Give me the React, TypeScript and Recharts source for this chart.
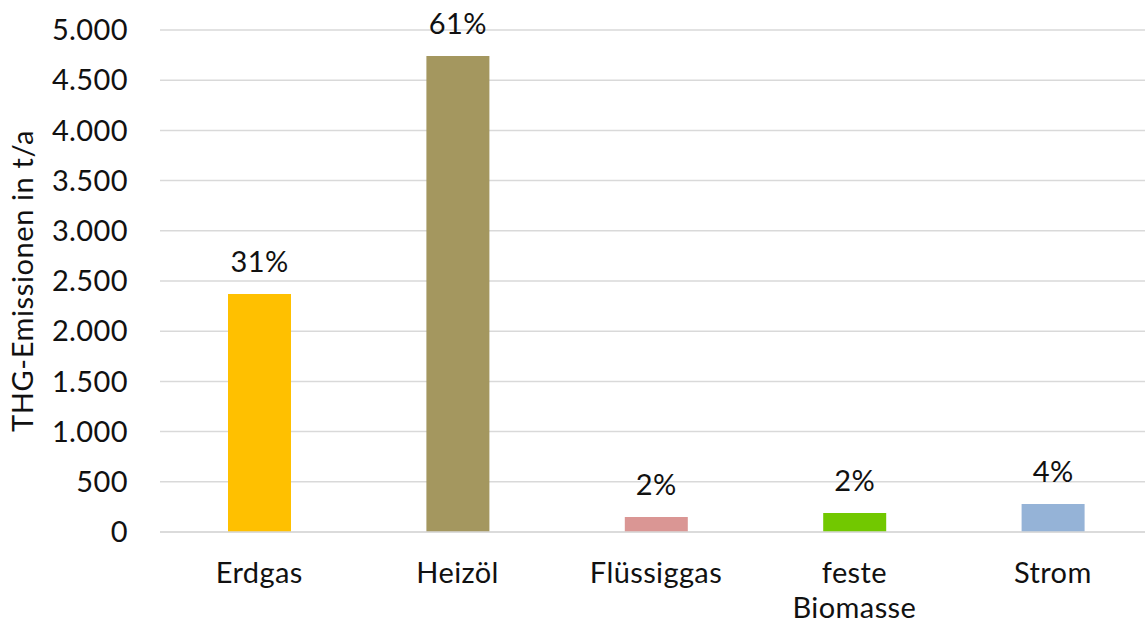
import { BarChart, Bar, XAxis, YAxis, CartesianGrid, Cell, LabelList } from 'recharts';

const categories = ['Erdgas', 'Heizöl', 'Flüssiggas', 'feste Biomasse', 'Strom'];
const emissions = [2370, 4740, 150, 190, 280];
const shares = ['31%', '61%', '2%', '2%', '4%'];
const colors = ['#FFC000', '#A4975F', '#DA9694', '#72C800', '#95B3D7'];
const yTicks = [0, 500, 1000, 1500, 2000, 2500, 3000, 3500, 4000, 4500, 5000];

const data = categories.map((name, i) => ({ name, value: emissions[i], share: shares[i] }));

const FONT = 'Lato, "Noto Sans", sans-serif';
const TEXT = '#111';

const fmt = (v: number) => String(v).replace(/\B(?=(\d{3})+(?!\d))/g, '.');

function CategoryTick(props: any) {
  const { x, y, payload } = props;
  const lines = String(payload.value).split(' ');
  return (
    <text x={x} y={y} textAnchor="middle" fill={TEXT} fontSize={29} fontFamily={FONT} letterSpacing={0.4}>
      {lines.map((line, i) => (
        <tspan key={i} x={x} dy={i === 0 ? '0.71em' : 35}>
          {line}
        </tspan>
      ))}
    </text>
  );
}

export default function App() {
  return (
    <div style={{ position: 'absolute', left: 0, top: 0, width: 1145, height: 624, overflow: 'hidden', background: '#fff' }}>
      <BarChart width={1160} height={624} data={data} margin={{ top: 30, right: 8, left: 0, bottom: 0 }}>
        <CartesianGrid vertical={false} stroke="#d9d9d9" strokeWidth={1.5} />
        <XAxis
          dataKey="name"
          height={92}
          axisLine={{ stroke: '#d9d9d9', strokeWidth: 1.5 }}
          tickLine={false}
          tickSize={0}
          tickMargin={30}
          interval={0}
          tick={<CategoryTick />}
        />
        <YAxis
          width={160}
          domain={[0, 5000]}
          ticks={yTicks}
          tickFormatter={fmt}
          axisLine={false}
          tickLine={false}
          tickSize={0}
          tickMargin={32}
          tick={{ fill: TEXT, fontSize: 29, fontFamily: FONT, letterSpacing: 0.4 }}
          label={{
            value: 'THG-Emissionen in t/a',
            angle: -90,
            position: 'insideLeft',
            offset: 23,
            style: { textAnchor: 'middle', fill: TEXT, fontSize: 29, fontFamily: FONT, letterSpacing: 0.6 },
          }}
        />
        <Bar dataKey="value" barSize={63} isAnimationActive={false}>
          {data.map((d, i) => (
            <Cell key={d.name} fill={colors[i]} />
          ))}
          <LabelList dataKey="share" position="top" offset={22} fill={TEXT} fontSize={29} fontFamily={FONT} letterSpacing={0.4} />
        </Bar>
      </BarChart>
    </div>
  );
}
